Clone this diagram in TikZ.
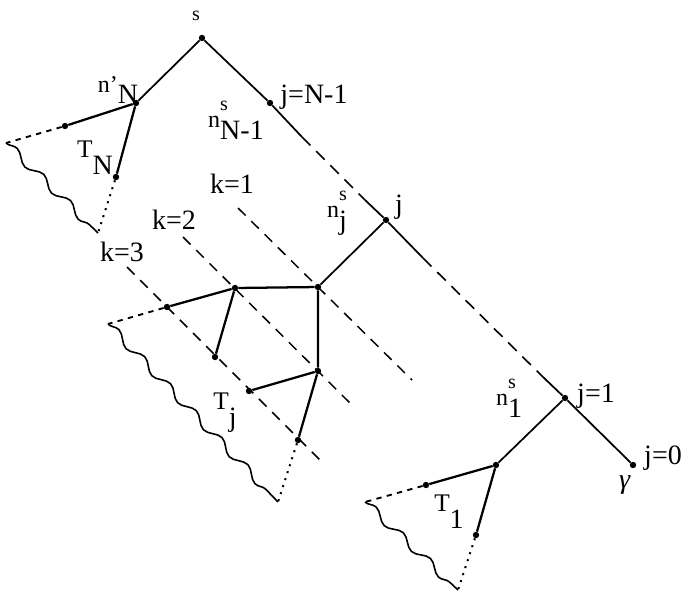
\documentclass[tikz,border=0pt]{standalone}
\usepackage{fontspec}
\setmainfont{Liberation Serif}
\usetikzlibrary{decorations.pathmorphing}
\newcommand{\nlab}[2]{\raisebox{.42em}{\fontsize{18}{18}\selectfont n}\rlap{\raisebox{1.05em}{\fontsize{15}{15}\selectfont #1}}#2}
\newcommand{\tlab}[1]{\raisebox{.6em}{\fontsize{19}{19}\selectfont T}#1}

\begin{document}
\begin{tikzpicture}[
    x=0.75pt, y=-0.75pt,
    font=\fontsize{21}{23}\selectfont,
    dot/.style    = {circle, fill=black, inner sep=0pt, minimum size=4.8pt},
    lab/.style    = {inner sep=0pt},
    spine/.style  = {line width=1.3pt},
    treeedge/.style = {line width=1.7pt},
    gap/.style    = {line width=1.2pt, dash pattern=on 9pt off 6pt},
    klevel/.style = {line width=1.1pt, dash pattern=on 8pt off 6pt},
    fringe/.style = {line width=1.4pt, dash pattern=on 4pt off 4pt},
    rim/.style    = {line width=1.5pt, dash pattern=on 1.5pt off 4pt},
    wave/.style   = {line width=1.2pt, decorate,
                     decoration={snake, amplitude=3pt, segment length=28pt}},
]
\useasboundingbox (0,0) rectangle (683,594);

% ---- spine nodes ----
\node[dot] (s)   at (202,38)  {};
\node[dot] (jN1) at (270,103) {};
\node[dot] (j)   at (386,220) {};
\node[dot] (j1)  at (565,398) {};
\node[dot] (j0)  at (633,465) {};
\coordinate (jN1b) at (302,137);
\coordinate (ja)   at (365,200);
\coordinate (jb)   at (423,258);
\coordinate (j1a)  at (543,377);

% ---- subtree T_N ----
\node[dot] (nN)  at (136,103) {};
\node[dot] (nNa) at (65,126)  {};
\node[dot] (nNb) at (116,177) {};
\coordinate (nNl) at (6,143);
\coordinate (nNr) at (98,233);

% ---- subtree T_j ----
\node[dot] (nj)  at (318,287) {};
\node[dot] (tjB) at (235,288) {};
\node[dot] (tjC) at (167,307) {};
\node[dot] (tjD) at (215,357) {};
\node[dot] (tjE) at (318,371) {};
\node[dot] (tjF) at (249,391) {};
\node[dot] (tjG) at (298,440) {};
\coordinate (tjl) at (108,324);
\coordinate (tjr) at (278,502);

% ---- subtree T_1 ----
\node[dot] (n1)  at (496,465) {};
\node[dot] (n1a) at (426,485) {};
\node[dot] (n1b) at (476,535) {};
\coordinate (n1l) at (365,502);
\coordinate (n1r) at (458,590);

% ---- level lines k ----
\coordinate (k1s) at (238,208); \coordinate (k1e) at (412,380);
\coordinate (k2s) at (183,237); \coordinate (k2e) at (352,405);
\coordinate (k3s) at (127,267); \coordinate (k3e) at (323,463);

% ---- spine ----
\draw[spine] (nN) -- (s) -- (jN1) -- (jN1b);
\draw[gap]   (jN1b) -- (ja);
\draw[spine] (ja) -- (j) -- (jb);
\draw[gap]   (jb) -- (j1a);
\draw[spine] (j1a) -- (j1) -- (j0);
\draw[spine] (j) -- (nj);
\draw[spine] (j1) -- (n1);

% ---- T_N ----
\draw[treeedge] (nNa) -- (nN) -- (nNb);
\draw[fringe] (nNa) -- (nNl);
\draw[rim]    (nNb) -- (nNr);
\draw[wave]   (nNl) -- (nNr);

% ---- T_j ----
\draw[treeedge] (tjC) -- (tjB) -- (nj) -- (tjE) -- (tjG);
\draw[treeedge] (tjB) -- (tjD);
\draw[treeedge] (tjE) -- (tjF);
\draw[fringe] (tjC) -- (tjl);
\draw[rim]    (tjG) -- (tjr);
\draw[wave]   (tjl) -- (tjr);

% ---- T_1 ----
\draw[treeedge] (n1a) -- (n1) -- (n1b);
\draw[fringe] (n1a) -- (n1l);
\draw[rim]    (n1b) -- (n1r);
\draw[wave]   (n1l) -- (n1r);

% ---- k lines ----
\draw[klevel] (k1s) -- (k1e);
\draw[klevel] (k2s) -- (k2e);
\draw[klevel] (k3s) -- (k3e);

% ---- labels ----
\node[lab, font=\fontsize{15}{15}\selectfont] (ls) at (196,16) {s};
\node[lab] (lnN)  at (118,90)  {\raisebox{.42em}{\fontsize{18}{18}\selectfont n'}N};
\node[lab] (ljN1) at (314,97)  {j=N-1};
\node[lab] (lnN1) at (236,120) {\nlab{s}{N-1}};
\node[lab] (lTN)  at (95,158)  {\tlab{N}};
\node[lab] (lk1)  at (232,184) {k=1};
\node[lab] (lk2)  at (174,220) {k=2};
\node[lab] (lk3)  at (122,252) {k=3};
\node[lab] (lnj)  at (337,213) {\nlab{s}{j}};
\node[lab] (lj)   at (399,207) {j};
\node[lab] (lTj)  at (225,413) {\tlab{j}};
\node[lab] (ln1)  at (509,398) {\nlab{s}{1}};
\node[lab] (lj1)  at (596,396) {j=1};
\node[lab] (lj0)  at (663,458) {j=0};
\node[lab] (lg)   at (625,485) {\textit{γ}};
\node[lab] (lT1)  at (449,512) {\tlab{1}};

\end{tikzpicture}
\end{document}
